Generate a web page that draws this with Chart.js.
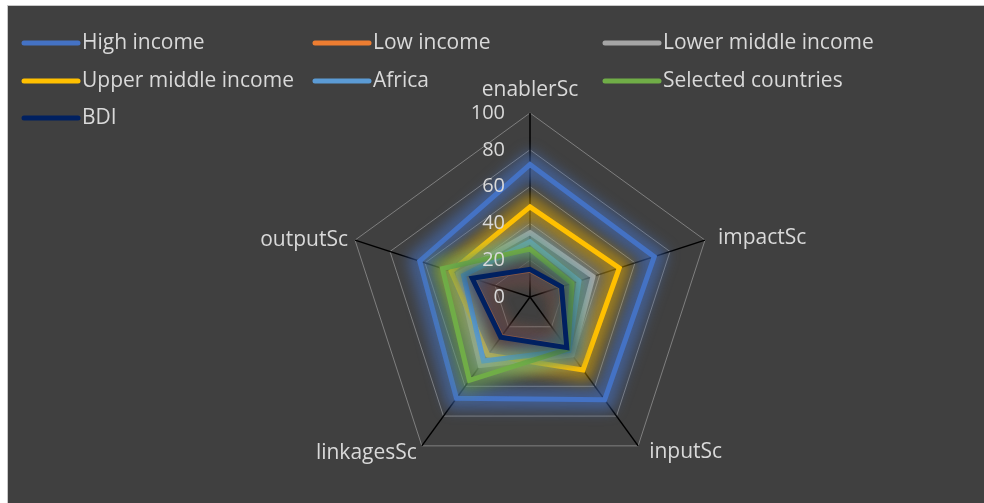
<!DOCTYPE html>
<html>
<head>
<meta charset="utf-8">
<script src="https://cdn.jsdelivr.net/npm/chart.js@4.4.1/dist/chart.umd.min.js"></script>
<style>
  html, body { margin: 0; padding: 0; background: #ffffff; }
  #wrap { position: absolute; left: 0; top: 0; width: 984px; height: 503px; }
</style>
</head>
<body>
<div id="wrap"><canvas id="c" width="984" height="503"></canvas></div>
<script>
// ---- data ----
const categories = ["enablerSc", "impactSc", "inputSc", "linkagesSc", "outputSc"];
const seriesNames = ["High income", "Low income", "Lower middle income", "Upper middle income", "Africa", "Selected countries", "BDI"];
const highIncome        = [72, 71, 69, 68, 63];
const lowIncome         = [14.5, 17.5, 33.5, 26.5, 32.5];
const lowerMiddleIncome = [35, 36, 39, 46, 41];
const upperMiddleIncome = [49, 51, 49, 39, 45];
const africa            = [30, 28, 36, 43, 38];
const selectedCountries = [26, 24, 35, 56, 50];
const bdi               = [15, 18, 34, 27, 33];
const tickValues = [0, 20, 40, 60, 80, 100];

// ---- styles ----
const colors = ["#4472C4", "#ED7D31", "#A5A5A5", "#FFC000", "#5B9BD5", "#70AD47", "#002060"];
const glowColors = ["rgba(68,114,196,0.6)", "rgba(237,125,49,0.5)", "rgba(165,165,165,0.45)", "rgba(255,192,0,0.5)", "rgba(91,155,213,0.5)", "rgba(112,173,71,0.55)", "rgba(0,32,96,0.45)"];
const seriesData = [highIncome, lowIncome, lowerMiddleIncome, upperMiddleIncome, africa, selectedCountries, bdi];
const FONT = "'Open Sans', 'Liberation Sans', Arial, sans-serif";
const TEXT = "#d9d9d9";

const datasets = seriesNames.map((n, i) => ({
  label: n,
  data: seriesData[i],
  borderColor: colors[i],
  backgroundColor: colors[i],
  borderWidth: 5,
  pointRadius: 0,
  fill: false,
  tension: 0,
  order: seriesNames.length - i,
  borderJoinStyle: 'miter'
}));

const bgPlugin = {
  id: 'bg',
  beforeDraw(chart) {
    const ctx = chart.ctx;
    ctx.save();
    ctx.fillStyle = '#ffffff';
    ctx.fillRect(0, 0, chart.width, chart.height);
    ctx.fillStyle = '#c8c8c8';
    ctx.fillRect(7, 5, chart.width - 7, chart.height - 5);
    ctx.fillStyle = '#404040';
    ctx.fillRect(8, 6, chart.width - 8, chart.height - 6);
    ctx.restore();
  }
};

// soft glow under each series line, following the library's computed points
const glowPlugin = {
  id: 'glow',
  beforeDatasetDraw(chart, args) {
    const ctx = chart.ctx;
    const pts = args.meta.data;
    if (!pts || !pts.length) return;
    ctx.save();
    ctx.filter = 'blur(7px)';
    ctx.strokeStyle = glowColors[args.index];
    ctx.lineWidth = 22;
    ctx.lineJoin = 'miter';
    ctx.beginPath();
    pts.forEach((p, k) => { if (k === 0) ctx.moveTo(p.x, p.y); else ctx.lineTo(p.x, p.y); });
    ctx.closePath();
    ctx.stroke();
    ctx.restore();
  }
};

// label placement offsets relative to each axis end point [dx, dy, align]
const labelPlace = [[0, -23, 'center'], [13, -2, 'left'], [11, 6, 'left'], [-5, 7, 'right'], [-7, 0, 'right']];

const textPlugin = {
  id: 'texts',
  afterDatasetsDraw(chart) {
    const ctx = chart.ctx;
    const s = chart.scales.r;
    ctx.save();
    ctx.fillStyle = TEXT;
    ctx.textBaseline = 'middle';
    // tick labels
    ctx.font = '20px ' + FONT;
    ctx.textAlign = 'right';
    tickValues.forEach(v => {
      const d = s.getDistanceFromCenterForValue(v);
      ctx.fillText(String(v), s.xCenter - 25, s.yCenter - d);
    });
    // point labels
    ctx.font = '21px ' + FONT;
    categories.forEach((c, i) => {
      const p = s.getPointPositionForValue(i, 100);
      const pl = labelPlace[i];
      ctx.textAlign = pl[2];
      ctx.fillText(c, p.x + pl[0], p.y + pl[1]);
    });
    // legend
    const colX = [22, 313, 603];
    const rowY = [43, 81, 118];
    seriesNames.forEach((n, i) => {
      const x = colX[i % 3], y = rowY[Math.floor(i / 3)];
      ctx.strokeStyle = colors[i];
      ctx.lineWidth = 5;
      ctx.lineCap = 'round';
      ctx.beginPath();
      ctx.moveTo(x + 2, y);
      ctx.lineTo(x + 56, y);
      ctx.stroke();
      ctx.textAlign = 'left';
      ctx.fillText(n, x + 60, y);
    });
    ctx.restore();
  }
};

new Chart(document.getElementById('c'), {
  type: 'radar',
  data: { labels: categories, datasets },
  options: {
    responsive: false,
    animation: false,
    layout: { padding: { left: 346, right: 270, top: 113, bottom: 22 } },
    plugins: { legend: { display: false }, tooltip: { enabled: false } },
    elements: { line: { borderCapStyle: 'butt' } },
    scales: {
      r: {
        min: 0, max: 100,
        ticks: { stepSize: 20, display: false },
        grid: { color: '#7f7f7f', lineWidth: 1 },
        angleLines: { color: '#000000', lineWidth: 1.5 },
        pointLabels: { display: false }
      }
    }
  },
  plugins: [bgPlugin, glowPlugin, textPlugin]
});
</script>
</body>
</html>
